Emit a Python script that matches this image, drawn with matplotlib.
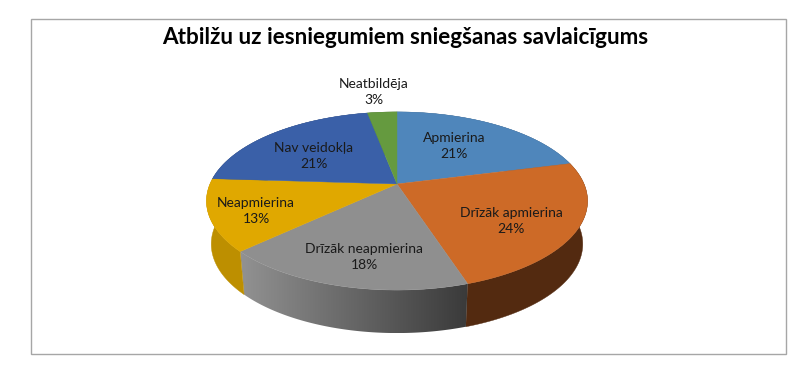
import numpy as np
import matplotlib
matplotlib.use("Agg")
import matplotlib.pyplot as plt
from matplotlib.colors import LinearSegmentedColormap
from matplotlib.patches import Polygon, Rectangle

title = "Atbilžu uz iesniegumiem sniegšanas savlaicīgums"
categories = ["Apmierina", "Drīzāk apmierina", "Drīzāk neapmierina", "Neapmierina", "Nav veidokļa", "Neatbildēja"]
values = [21, 24, 18, 13, 21, 3]
top_colors = ["#4f86bb", "#cd6a27", "#8f8f8f", "#e0a800", "#3a60a8", "#659a3f"]
side_colors = ["#35597d", "#532a10", "#555555", "#bd8f00", "#27406f", "#43662a"]

# pie geometry, in image pixels
CX, CY = 397, 184
RX, RY = 187, 85.8
PERSP = 0.191
DEPTH = 43
BOTTOM_SCALE = 0.975


def rim(theta):
    # clockwise from 12 o'clock, back of the disc is further away
    u = np.sin(theta)
    v = np.cos(theta)
    s = 1 / (1 + PERSP * v)
    return CX + RX * u * s, CY - RY * v * s


def rim_bottom(theta):
    x, y = rim(theta)
    return CX + (x - CX) * BOTTOM_SCALE, y + DEPTH


def main():
    plt.rcParams["font.family"] = ["Lato", "DejaVu Sans"]
    fig = plt.figure(figsize=(8, 3.73), dpi=100)
    ax = fig.add_axes([0, 0, 1, 1])
    ax.axis("off")

    ax.add_patch(Rectangle((30.5, 18.5), 755, 335, fc="white", ec="#a6a6a6", lw=1, zorder=0))

    fracs = np.array(values, dtype=float)
    edges = np.concatenate([[0], np.cumsum(fracs)]) / fracs.sum() * 2 * np.pi

    # side walls first, top faces cover whatever is hidden
    for i in range(len(values)):
        t = np.linspace(edges[i], edges[i + 1], 120)
        xt, yt = rim(t)
        xb, yb = rim_bottom(t[::-1])
        pts = np.column_stack([np.concatenate([xt, xb]), np.concatenate([yt, yb])])
        if categories[i] == "Drīzāk neapmierina":
            poly = Polygon(pts, fc="none", ec="none", zorder=2)
            ax.add_patch(poly)
            grad = np.linspace(0, 1, 256).reshape(1, -1)
            cmap = LinearSegmentedColormap.from_list("g", ["#929292", "#3a3a3a"])
            im = ax.imshow(grad, cmap=cmap, aspect="auto", zorder=2,
                           extent=(pts[:, 0].min(), pts[:, 0].max(), pts[:, 1].max(), pts[:, 1].min()))
            im.set_clip_path(poly)
        else:
            ax.add_patch(Polygon(pts, fc=side_colors[i], ec=side_colors[i], lw=0.3, zorder=2))
    ax.set_xlim(0, 800)
    ax.set_ylim(373, 0)

    for i in range(len(values)):
        t = np.linspace(edges[i], edges[i + 1], 120)
        x, y = rim(t)
        pts = np.column_stack([np.concatenate([[CX], x]), np.concatenate([[CY], y])])
        ax.add_patch(Polygon(pts, fc=top_colors[i], ec=top_colors[i], lw=0.3, zorder=3))

    label_xy = [(454, 146), (511, 221), (364, 257), (256, 211), (314, 156), (374, 92)]
    for name, val, (lx, ly) in zip(categories, values, label_xy):
        ax.text(lx, ly, f"{name}\n{val}%", ha="center", va="center", fontsize=10,
                color="#1a1a1a", linespacing=1.35, zorder=4)

    ax.text(405, 37, title, ha="center", va="center", fontsize=16.2, fontweight="bold", color="black")

    fig.savefig("out.png", dpi=100)
    plt.close(fig)


if __name__ == "__main__":
    main()
